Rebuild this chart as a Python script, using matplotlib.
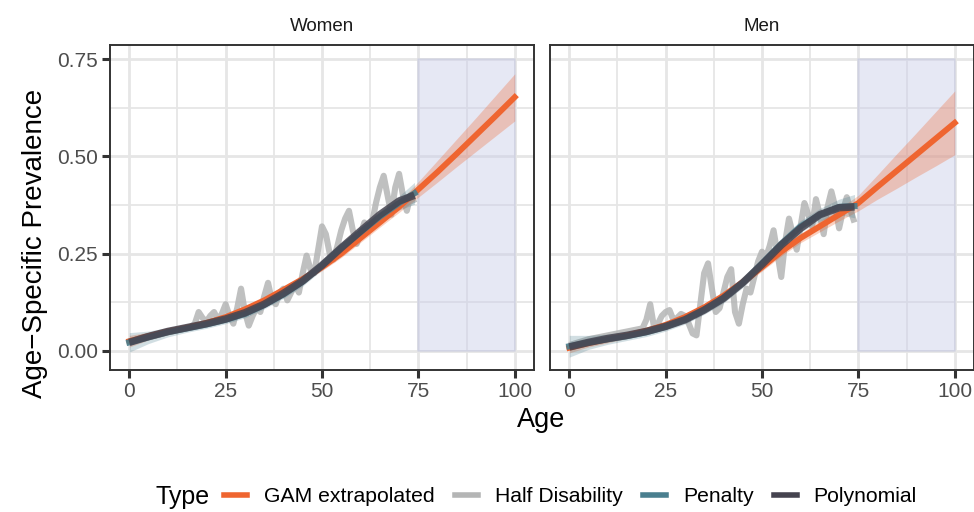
import matplotlib
matplotlib.use("Agg")
import matplotlib.pyplot as plt
import numpy as np
from matplotlib.lines import Line2D
from matplotlib.ticker import MultipleLocator

plt.rcParams['font.family'] = ['Liberation Sans', 'DejaVu Sans']

# ---- data ----
ages_year = list(range(0, 75))
ages_fit = [0, 5, 10, 15, 20, 25, 30, 35, 40, 45, 50, 55, 60, 65, 70, 74]
ages_gam = [0, 5, 10, 15, 20, 25, 30, 35, 40, 45, 50, 55, 60, 65, 70, 75, 80, 85, 90, 95, 100]

women_half = [0.020, 0.025, 0.030, 0.033, 0.036, 0.038, 0.040, 0.042, 0.045, 0.047,
              0.050, 0.052, 0.054, 0.056, 0.058, 0.060, 0.062, 0.070, 0.100, 0.085,
              0.075, 0.090, 0.100, 0.080, 0.095, 0.120, 0.090, 0.070, 0.110, 0.160,
              0.100, 0.065, 0.090, 0.110, 0.100, 0.140, 0.175, 0.130, 0.120, 0.150,
              0.160, 0.130, 0.150, 0.170, 0.150, 0.200, 0.245, 0.210, 0.200, 0.260,
              0.320, 0.300, 0.250, 0.235, 0.270, 0.310, 0.340, 0.360, 0.310, 0.275,
              0.300, 0.330, 0.310, 0.330, 0.380, 0.420, 0.450, 0.400, 0.350, 0.420,
              0.455, 0.400, 0.360, 0.400, 0.380]
men_half = [0.015, 0.018, 0.021, 0.024, 0.027, 0.030, 0.032, 0.034, 0.036, 0.038,
            0.040, 0.042, 0.044, 0.046, 0.048, 0.050, 0.052, 0.054, 0.056, 0.058,
            0.080, 0.120, 0.060, 0.070, 0.090, 0.100, 0.105, 0.080, 0.085, 0.095,
            0.090, 0.070, 0.045, 0.040, 0.120, 0.200, 0.225, 0.160, 0.100, 0.110,
            0.150, 0.190, 0.210, 0.100, 0.070, 0.120, 0.160, 0.150, 0.190, 0.230,
            0.255, 0.240, 0.270, 0.310, 0.250, 0.190, 0.280, 0.340, 0.300, 0.260,
            0.320, 0.380, 0.350, 0.320, 0.390, 0.350, 0.300, 0.370, 0.410, 0.370,
            0.315, 0.360, 0.395, 0.360, 0.330]

women_gam = [0.025, 0.038, 0.050, 0.060, 0.072, 0.087, 0.107, 0.130, 0.157, 0.185, 0.215,
             0.250, 0.290, 0.330, 0.370, 0.415, 0.460, 0.507, 0.555, 0.603, 0.652]
women_gam_lo = [0.010, 0.028, 0.041, 0.052, 0.064, 0.079, 0.099, 0.122, 0.149, 0.177, 0.206,
                0.240, 0.279, 0.318, 0.356, 0.395, 0.434, 0.474, 0.513, 0.552, 0.591]
women_gam_hi = [0.040, 0.048, 0.059, 0.068, 0.080, 0.095, 0.115, 0.138, 0.165, 0.193, 0.224,
                0.260, 0.301, 0.342, 0.384, 0.435, 0.490, 0.545, 0.600, 0.656, 0.712]
women_pen = [0.022, 0.035, 0.048, 0.058, 0.068, 0.080, 0.095, 0.118, 0.145, 0.178, 0.220,
             0.265, 0.305, 0.345, 0.380, 0.405]
women_pen_band = [0.025, 0.016, 0.012, 0.010, 0.010, 0.010, 0.010, 0.010, 0.010, 0.011, 0.012,
                  0.012, 0.013, 0.014, 0.018, 0.028]
women_poly = [0.022, 0.037, 0.050, 0.060, 0.070, 0.082, 0.098, 0.120, 0.148, 0.180, 0.220,
              0.265, 0.308, 0.350, 0.385, 0.400]

men_gam = [0.008, 0.020, 0.030, 0.040, 0.052, 0.067, 0.087, 0.112, 0.142, 0.177, 0.215,
           0.255, 0.290, 0.320, 0.350, 0.380, 0.422, 0.463, 0.504, 0.545, 0.586]
men_gam_lo = [-0.005, 0.010, 0.021, 0.032, 0.044, 0.059, 0.079, 0.104, 0.134, 0.168, 0.205,
              0.244, 0.278, 0.306, 0.334, 0.360, 0.390, 0.418, 0.447, 0.475, 0.504]
men_gam_hi = [0.021, 0.030, 0.039, 0.048, 0.060, 0.075, 0.095, 0.120, 0.150, 0.186, 0.225,
              0.266, 0.302, 0.334, 0.366, 0.400, 0.453, 0.507, 0.560, 0.614, 0.668]
men_pen = [0.012, 0.022, 0.030, 0.038, 0.048, 0.062, 0.080, 0.105, 0.135, 0.175, 0.225,
           0.275, 0.320, 0.350, 0.370, 0.372]
men_pen_band = [0.028, 0.018, 0.013, 0.011, 0.011, 0.011, 0.011, 0.011, 0.012, 0.012, 0.013,
                0.014, 0.015, 0.016, 0.020, 0.030]
men_poly = [0.010, 0.022, 0.032, 0.040, 0.050, 0.063, 0.080, 0.105, 0.135, 0.175, 0.222,
            0.272, 0.315, 0.350, 0.368, 0.370]

panels = [
    ("Women", women_half, women_gam, women_gam_lo, women_gam_hi, women_pen, women_pen_band, women_poly),
    ("Men", men_half, men_gam, men_gam_lo, men_gam_hi, men_pen, men_pen_band, men_poly),
]

types = ["GAM extrapolated", "Half Disability", "Penalty", "Polynomial"]
c_gam, c_half, c_pen, c_poly = "#ef6530", "#b4b5b5", "#4a7f8f", "#45434f"

fig = plt.figure(figsize=(9.74, 5.12), dpi=100)
lefts = [110 / 974, 550 / 974]
width = 424 / 974
bottom, height = 1 - 370 / 512, 325 / 512

for i, (name, half, gam, glo, ghi, pen, pband, poly) in enumerate(panels):
    ax = fig.add_axes([lefts[i], bottom, width, height])
    ax.set_xlim(-5, 105)
    ax.set_ylim(-0.049, 0.786)
    ax.xaxis.set_major_locator(MultipleLocator(25))
    ax.xaxis.set_minor_locator(MultipleLocator(12.5))
    ax.yaxis.set_major_locator(MultipleLocator(0.25))
    ax.yaxis.set_minor_locator(MultipleLocator(0.125))
    ax.set_yticks([0, 0.25, 0.5, 0.75])
    ax.set_yticklabels(["0.00", "0.25", "0.50", "0.75"] if i == 0 else [])
    ax.grid(which="major", color="#e6e6e6", lw=2.0, zorder=0)
    ax.grid(which="minor", color="#e6e6e6", lw=1.3, zorder=0)
    ax.set_axisbelow(True)
    ax.tick_params(which="minor", length=0)
    ax.tick_params(which="major", length=5.5, width=2.2, color="#333333",
                   labelsize=15, labelcolor="#4d4d4d", pad=3)
    if i == 1:
        ax.tick_params(axis="y", length=0)
    for s in ax.spines.values():
        s.set_color("#333333")
        s.set_linewidth(1.4)

    # extrapolation region
    ax.fill_between([75, 100], 0, 0.75, facecolor="#c9cde8", alpha=0.45,
                    edgecolor="#c3c6dc", lw=1.2, zorder=1)

    ax.plot(ages_year, half, color=c_half, lw=4.4, alpha=0.85, zorder=2,
            solid_capstyle="butt")
    ax.fill_between(ages_gam, glo, ghi, color=c_gam, alpha=0.3, lw=0, zorder=3)
    pen_a = np.array(pen)
    pb = np.array(pband)
    ax.fill_between(ages_fit, pen_a - pb, pen_a + pb, color=c_pen, alpha=0.25, lw=0, zorder=3)
    ax.plot(ages_gam, gam, color=c_gam, lw=4.2, zorder=4)
    ax.plot(ages_fit, pen, color=c_pen, lw=4.4, alpha=0.9, zorder=5)
    ax.plot(ages_fit, poly, color=c_poly, lw=5.4, alpha=0.85, zorder=6,
            solid_capstyle="butt")

    ax.set_title(name, fontsize=13.5, color="#1a1a1a", pad=10)

fig.text(35 / 974, 1 - 243 / 512, "Age\u2212Specific Prevalence", rotation=90,
         ha="center", va="center", fontsize=20)
fig.text(541 / 974, 1 - 420 / 512, "Age", ha="center", va="center", fontsize=19.5)

handles = [Line2D([], [], color=c, lw=4) for c in [c_gam, c_half, c_pen, c_poly]]
fig.text(155 / 974, 1 - 497 / 512, "Type", ha="left", va="center", fontsize=18)
fig.legend(handles, types, loc="center left", bbox_to_anchor=(224 / 974, 1 - 497 / 512),
           ncol=4, frameon=False, fontsize=15.2, handlelength=1.1, handletextpad=0.8,
           columnspacing=0.95, borderpad=0, borderaxespad=0)

fig.savefig("out.png", dpi=100)
